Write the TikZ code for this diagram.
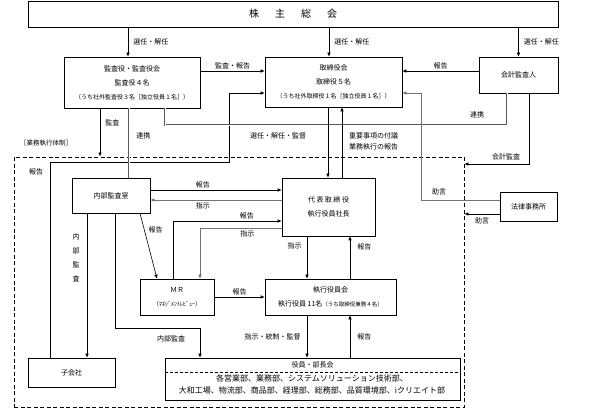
\documentclass[tikz,border=0pt]{standalone}
\usepackage{fontspec}
\setmainfont{Noto Sans CJK JP}
\usetikzlibrary{positioning, calc, arrows.meta}

\tikzset{
  box/.style={draw, line width=0.6pt, inner sep=0pt, align=center, font=\fontsize{7}{14}\selectfont},
  arr/.style={line width=0.6pt, -{Latex[length=4pt, width=3.5pt]}},
  garr/.style={arr, draw=black!55},
  link/.style={draw=black!65, line width=0.6pt, double=white, double distance=1pt},
  lbl/.style={font=\fontsize{7}{10}\selectfont, inner sep=1pt},
}

\begin{document}
\begin{tikzpicture}[x=1pt, y=-1pt]
    \useasboundingbox (0,0) rectangle (600,414);

    % upper part
    \node[box, minimum width=530, minimum height=26, font=\fontsize{10}{12}\selectfont] (kabu) at (293,14)
        {株\hspace{16pt}主\hspace{16pt}総\hspace{16pt}会};
    \node[box, minimum width=136, minimum height=51] (kansa) at (132,82.5)
        {監査役・監査役会\\監査役４名\\{\fontsize{6}{14}\selectfont （うち社外監査役３名［独立役員１名］）}};
    \node[box, minimum width=137, minimum height=50] (torishimari) at (333.5,82)
        {取締役会\\取締役５名\\{\fontsize{6}{14}\selectfont （うち社外取締役１名［独立役員１名］）}};
    \node[box, minimum width=79, minimum height=36] (kaikei) at (518.5,75) {会計監査人};

    % business execution
    \node[draw, dashed, dash pattern=on 4pt off 2.5pt, line width=0.8pt, minimum width=450, minimum height=250] (taisei) at (239,282) {};
    \node[lbl, font=\fontsize{6.5}{8}\selectfont] (taiseilbl) at (46,143) {［業務執行体制］};

    \node[box, minimum width=78, minimum height=35] (naibu) at (111,195.5) {内部監査室};
    \node[box, minimum width=93, minimum height=58] (daihyo) at (328.5,207)
        {代\hspace{1.5pt}表\hspace{1.5pt}取\hspace{1.5pt}締\hspace{1.5pt}役\\執行役員社長};
    \node[box, minimum width=57, minimum height=29] (houritsu) at (528.5,206.5) {法律事務所};
    \node[box, minimum width=74, minimum height=36] (mr) at (177,297)
        {ＭＲ\\{\fontsize{6}{14}\selectfont （ﾏﾈｼﾞﾒﾝﾄﾚﾋﾞｭｰ）}};
    \node[box, minimum width=131, minimum height=36] (shikko) at (330.5,297)
        {執行役員会\\執行役員 11名{\fontsize{5.5}{14}\selectfont （うち取締役兼務４名）}};
    \node[box, minimum width=87, minimum height=29] (kogaisha) at (71.5,372.5) {子会社};
    \node[box, minimum width=295, minimum height=42] (bucho) at (312.5,379) {};
    \draw[densely dashed, line width=0.6pt] (bucho.west |- 0,372) -- (bucho.east |- 0,372);
    \node[lbl] (buchott) at (312.5,365) {役員・部長会};
    \node[lbl, align=center, font=\fontsize{8}{12}\selectfont] (buchotx) at (312,384.5)
        {各営業部、業務部、システムソリューション技術部、\\大和工場、物流部、商品部、経理部、総務部、品質環境部、iクリエイト部};

    % shareholders
    \draw[arr] ([xshift=-4pt]kansa.north |- kabu.south) -- node[lbl, right=4pt] {選任・解任} ([xshift=-4pt]kansa.north);
    \draw[arr] ([xshift=-4.5pt]torishimari.north |- kabu.south) -- node[lbl, right=4pt] {選任・解任} ([xshift=-4.5pt]torishimari.north);
    \draw[arr] (kaikei.north |- kabu.south) -- node[lbl, right=4pt] {選任・解任} (kaikei.north);

    \draw[arr] ([yshift=11.5pt]kansa.east) -- node[lbl, above=1pt] {監査・報告} ([yshift=11.5pt]kansa.east -| torishimari.west);
    \draw[arr] ([yshift=4pt]kaikei.west) -- node[lbl, above=1pt] {報告} ([yshift=4pt]kaikei.west -| torishimari.east);

    \coordinate (hk) at (229,162);
    \draw[arr] ([xshift=-21.5pt]kogaisha.north) |- (hk) |- ([yshift=-11pt]torishimari.west);
    \node[lbl] (hklbl) at (36,172) {報告};

    \draw[arr] ([xshift=-32pt]kansa.south) -- node[lbl, right=4pt, pos=0.3] {監査} ([xshift=-32pt]kansa.south |- taisei.north);
    \draw[link] ([xshift=-3pt]kansa.south) -- node[lbl, right=6pt, pos=0.4] {連携} ([xshift=-3pt]kansa.south |- naibu.north);
    \draw[link] ([xshift=33pt]kansa.south) |- ([xshift=-11.5pt, yshift=-32pt]kaikei.south) -- ([xshift=-11.5pt]kaikei.south);
    \node[lbl] (renkei) at (477,115) {連携};

    \draw[arr] ([xshift=-5.5pt]torishimari.south) -- ([xshift=-5.5pt]torishimari.south |- daihyo.north);
    \node[lbl] (kantoku) at (278,136) {選任・解任・監督};
    \draw[arr] ([xshift=13.5pt]daihyo.north) -- ([xshift=13.5pt]daihyo.north |- torishimari.south);
    \node[lbl, anchor=west, align=left, font=\fontsize{7}{11}\selectfont] (fugi) at (348,141.5) {重要事項の付議\\業務執行の報告};

    \draw[arr] ([xshift=10.5pt]kaikei.south) |- ([yshift=118pt]taisei.east);
    \node[lbl] (kaikeikansa) at (506,157) {会計監査};

    \draw[garr] ([yshift=6.5pt]houritsu.west) -- ++(-78,0) |- ([yshift=-11pt]torishimari.east);
    \node[lbl] (jogen) at (439,192) {助言};
    \draw[arr] ([yshift=-7.5pt]houritsu.west) -- node[lbl, below=2pt] {助言} ([yshift=-7.5pt]houritsu.west -| taisei.east);

    % inside
    \draw[arr] ([yshift=5.5pt]naibu.east) -- node[lbl, above=1pt, pos=0.4] {報告} ([yshift=5.5pt]naibu.east -| daihyo.west);
    \draw[garr] ([yshift=-4.5pt]naibu.east -| daihyo.west) -- node[lbl, below=1pt, pos=0.6] {指示} ([yshift=-4.5pt]naibu.east);
    \draw[arr] ([xshift=-4pt]mr.north) |- node[lbl, above=1pt, pos=0.84] {報告} ([yshift=-14pt]daihyo.west);
    \draw[garr] ([yshift=-21pt]daihyo.west) -| node[lbl, below=1pt, pos=0.21] {指示} ([xshift=23pt]mr.north);
    \draw[arr] ([xshift=29pt]naibu.south) -- node[lbl, right=3pt, pos=0.25] {報告} ([xshift=-20pt]mr.north);
    \draw[arr] (mr.east) -- node[lbl, above=1pt] {報告} (mr.east -| shikko.west);

    \draw[arr] ([xshift=-21.5pt]daihyo.south) -- node[lbl, left=4pt, pos=0.23] {指示} ([xshift=-21.5pt]daihyo.south |- shikko.north);
    \draw[arr] ([xshift=21.5pt]daihyo.south |- shikko.north) -- node[lbl, right=6pt, pos=0.75] {報告} ([xshift=21.5pt]daihyo.south);
    \draw[arr] ([xshift=-23.5pt]shikko.south) -- node[lbl, left=5pt] {指示・統制・監督} ([xshift=-23.5pt]shikko.south |- bucho.north);
    \draw[arr] ([xshift=19.5pt]shikko.south |- bucho.north) -- node[lbl, right=6pt] {報告} ([xshift=19.5pt]shikko.south);

    \draw[arr] ([xshift=4pt]naibu.south) |- ([xshift=-112.5pt, yshift=29pt]bucho.north) -- ([xshift=-112.5pt]bucho.north);
    \node[lbl] (naibukansa) at (171,339) {内部監査};
    \draw[arr] ([xshift=-24pt]naibu.south) -- ([xshift=-24pt]naibu.south |- kogaisha.north);
    \node[lbl, align=center, font=\fontsize{7}{14}\selectfont] (naibuv) at (76,258) {内\\部\\監\\査};
\end{tikzpicture}
\end{document}
